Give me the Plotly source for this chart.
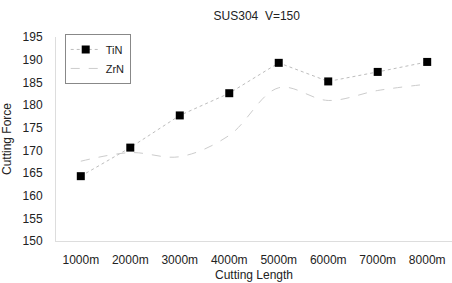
import plotly.graph_objects as go

categories = ["1000m", "2000m", "3000m", "4000m", "5000m", "6000m", "7000m", "8000m"]
tin = [164.3, 170.6, 177.7, 182.6, 189.3, 185.2, 187.3, 189.5]
zrn = [167.6, 169.5, 168.6, 173.3, 183.8, 181.0, 183.2, 184.6]
y_ticks = [150, 155, 160, 165, 170, 175, 180, 185, 190, 195]

font_family = "Liberation Sans, Arial, sans-serif"

fig = go.Figure()
fig.add_trace(go.Scatter(
    x=categories, y=tin, name="TiN", mode="lines+markers",
    line=dict(color="#bdbdbd", width=1, dash="dot"),
    marker=dict(symbol="square", size=8, color="#000000"),
))
fig.add_trace(go.Scatter(
    x=categories, y=zrn, name="ZrN", mode="lines",
    line=dict(color="#cccccc", width=1, dash="dash", shape="spline"),
))

fig.update_layout(
    width=452, height=283,
    margin=dict(l=56, r=0, t=37, b=42),
    paper_bgcolor="white", plot_bgcolor="white",
    font=dict(family=font_family, size=12, color="#222222"),
    title=dict(text="SUS304  V=150", x=0.568, xanchor="center", y=0.945, yanchor="middle",
               font=dict(size=12, color="#222222")),
    showlegend=True,
    legend=dict(x=0.022, y=1.015, xanchor="left", yanchor="top",
                bordercolor="#888888", borderwidth=1, bgcolor="rgba(255,255,255,0)",
                font=dict(size=11), itemwidth=30, tracegroupgap=0),
    xaxis=dict(
        type="category", showgrid=False, zeroline=False, automargin=False,
        showline=True, linecolor="#dddddd", linewidth=1,
        ticks="", ticklabelstandoff=8,
        title=dict(text="Cutting Length", standoff=4, font=dict(size=12)),
        tickfont=dict(size=12),
    ),
    yaxis=dict(
        range=[150, 195], tickvals=y_ticks, showgrid=False, zeroline=False, automargin=False,
        showline=True, linecolor="#dddddd", linewidth=1,
        ticks="", ticklabelstandoff=10,
        title=dict(text="Cutting Force", standoff=8, font=dict(size=12)),
        tickfont=dict(size=12),
    ),
)

fig.write_html(
    "out.html",
    config={"displayModeBar": False},
    post_script="document.body.style.margin='0';document.body.style.overflow='hidden';",
)
